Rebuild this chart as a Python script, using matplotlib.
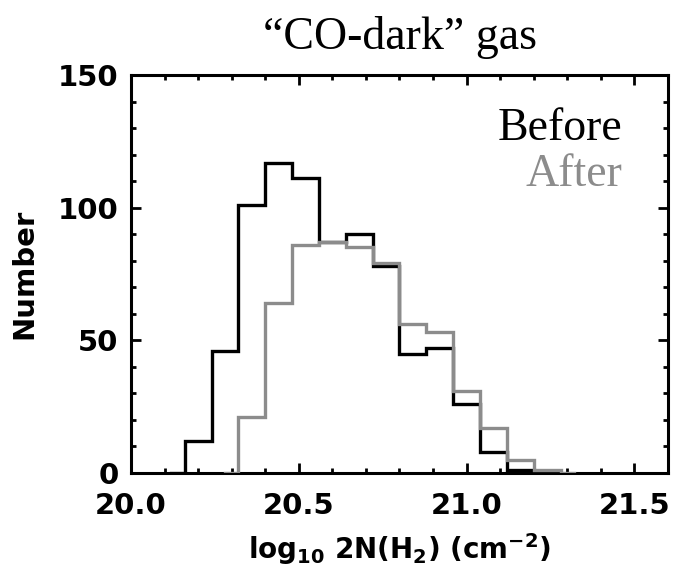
import numpy as np
import matplotlib
matplotlib.use("Agg")
import matplotlib.pyplot as plt
from matplotlib.ticker import MultipleLocator

# bin edges (log10 2N(H2)), width 0.08
edges = np.round(np.arange(20.16, 21.2801, 0.08), 2)

# counts per bin
before = [12, 46, 101, 117, 111, 87, 90, 78, 45, 47, 26, 8, 1, 0]
after = [0, 0, 21, 64, 86, 87, 85, 79, 56, 53, 31, 17, 5, 1]

title = "\u201cCO-dark\u201d gas"
labels = ["Before", "After"]
colors = ["black", "#8c8c8c"]

plt.rcParams['mathtext.default'] = 'bf'

fig = plt.figure(figsize=(6.83, 5.70), dpi=100)
ax = fig.add_axes([0.1918, 0.1702, 0.7862, 0.6982])


def draw_hist(counts, color):
    counts = np.array(counts)
    nz = np.nonzero(counts)[0]
    i0, i1 = nz[0], nz[-1] + 1
    e = edges[i0:i1 + 1]
    c = counts[i0:i1]
    half = 0.04
    # IDL psym=10 style: half-bin of zero at both ends
    xs = [e[0] - half, e[0]]
    ys = [0, 0]
    for k in range(len(c)):
        xs += [e[k], e[k + 1]]
        ys += [c[k], c[k]]
    xs += [e[-1], e[-1] + half]
    ys += [0, 0]
    ax.plot(xs, ys, color=color, lw=2.4, solid_joinstyle='miter', zorder=3)


draw_hist(before, colors[0])
draw_hist(after, colors[1])

ax.set_xlim(20.0, 21.6)
ax.set_ylim(0, 150)
ax.xaxis.set_major_locator(MultipleLocator(0.5))
ax.xaxis.set_minor_locator(MultipleLocator(0.1))
ax.yaxis.set_major_locator(MultipleLocator(50))
ax.yaxis.set_minor_locator(MultipleLocator(10))
ax.xaxis.set_major_formatter(matplotlib.ticker.FormatStrFormatter('%.1f'))
ax.tick_params(which='both', direction='in', top=True, right=True, width=2.0)
ax.tick_params(which='major', length=7, labelsize=21)
ax.tick_params(axis='x', which='major', pad=14)
ax.tick_params(axis='y', which='major', pad=9)
ax.tick_params(which='minor', length=3.5)
for lab in ax.get_xticklabels() + ax.get_yticklabels():
    lab.set_fontweight('bold')
for s in ax.spines.values():
    s.set_linewidth(2.2)

ax.set_xlabel(r"log$_{10}$ 2N(H$_2$) (cm$^{-2}$)", fontsize=20,
              fontweight='bold', labelpad=8)
ax.set_ylabel("Number", fontsize=21, fontweight='bold', labelpad=14)

fig.text(0.585, 0.935, title, ha='center', va='center',
         fontsize=33, family='Liberation Serif')
ax.text(0.915, 0.865, labels[0], transform=ax.transAxes, ha='right',
        va='center', fontsize=33, family='Liberation Serif', color=colors[0])
ax.text(0.915, 0.75, labels[1], transform=ax.transAxes, ha='right',
        va='center', fontsize=33, family='Liberation Serif', color=colors[1])

fig.savefig("out.png", dpi=100)
